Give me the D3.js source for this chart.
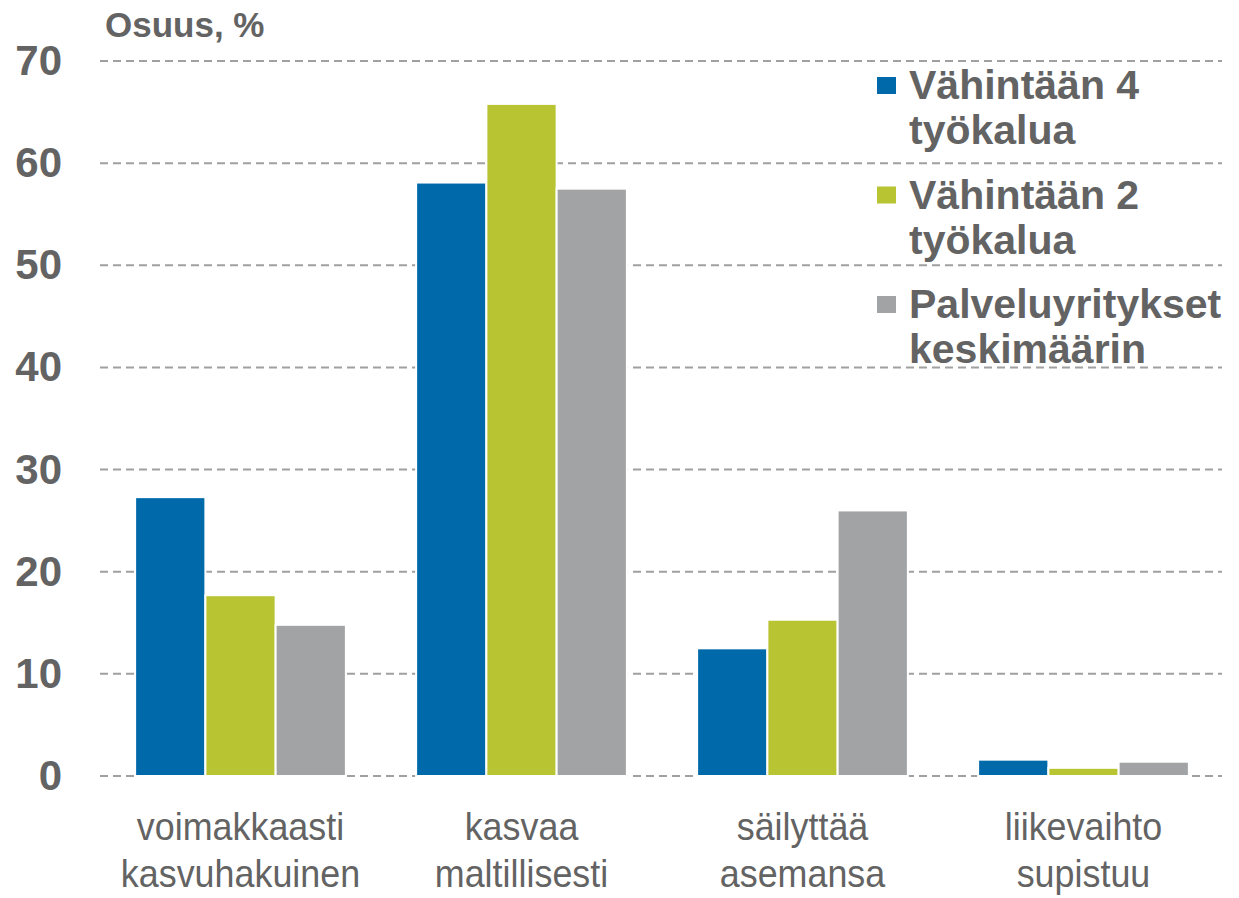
<!DOCTYPE html>
<html>
  <head>
    <meta charset="utf-8">
    <script src="https://d3js.org/d3.v7.min.js"></script>
    <style>
      body { margin: 0; background: #fff; }
      text { font-family: Arial, "Liberation Sans", sans-serif; fill: #636363; }
    </style>
  </head>
  <body>
    <script>
    // data
    var categories = ["voimakkaasti kasvuhakuinen", "kasvaa maltillisesti", "säilyttää asemansa", "liikevaihto supistuu"];
    var categoryLines = [["voimakkaasti", "kasvuhakuinen"], ["kasvaa", "maltillisesti"], ["säilyttää", "asemansa"], ["liikevaihto", "supistuu"]];
    var seriesNames = ["Vähintään 4 työkalua", "Vähintään 2 työkalua", "Palveluyritykset keskimäärin"];
    var legendLines = [["Vähintään 4", "työkalua"], ["Vähintään 2", "työkalua"], ["Palveluyritykset", "keskimäärin"]];
    var vah4 = [27.3, 58.1, 12.5, 1.6];
    var vah2 = [17.7, 65.8, 15.3, 0.8];
    var palvelu = [14.8, 57.5, 26.0, 1.4];
    var colors = ["#0069aa", "#b8c432", "#a2a3a5"];
    var yTicks = [0, 10, 20, 30, 40, 50, 60, 70];

    var width = 1239, height = 898;
    var plotLeft = 100, plotRight = 1224, plotTop = 61, plotBottom = 776;

    var svg = d3.select("body").append("svg")
      .attr("width", width)
      .attr("height", height);

    var y = d3.scaleLinear().domain([0, 70]).range([plotBottom, plotTop]);
    var x0 = d3.scaleBand().domain(categories).range([plotLeft, plotRight])
      .paddingInner(0.25).paddingOuter(0.125);
    var x1 = d3.scaleBand().domain(seriesNames).range([0, x0.bandwidth()]);

    // y axis + dashed grid
    var yAxis = svg.append("g")
      .attr("transform", "translate(" + plotLeft + ",0)")
      .call(d3.axisLeft(y).tickValues(yTicks).tickSize(0).tickPadding(38));
    yAxis.select(".domain").remove();
    yAxis.selectAll("text")
      .style("font-size", "42px")
      .style("font-weight", "bold")
      .style("font-family", "Arial, 'Liberation Sans', sans-serif")
      .attr("fill", "#636363");

    svg.append("g").selectAll("line")
      .data(yTicks)
      .enter().append("line")
      .attr("x1", plotLeft)
      .attr("x2", plotRight - 2)
      .attr("y1", function(d) { return y(d); })
      .attr("y2", function(d) { return y(d); })
      .attr("stroke", "#a0a0a0")
      .attr("stroke-width", 2)
      .attr("stroke-dasharray", "8,5");

    // bars
    var rows = categories.map(function(c, i) {
      return [vah4[i], vah2[i], palvelu[i]];
    });

    svg.append("g").selectAll("g")
      .data(rows)
      .enter().append("g")
      .attr("transform", function(d, i) { return "translate(" + x0(categories[i]) + ",0)"; })
      .selectAll("rect")
      .data(function(d) { return d; })
      .enter().append("rect")
      .attr("x", function(d, j) { return x1(seriesNames[j]); })
      .attr("width", x1.bandwidth())
      .attr("y", function(d) { return y(d); })
      .attr("height", function(d) { return y(0) - y(d); })
      .attr("fill", function(d, j) { return colors[j]; })
      .attr("stroke", "#fff")
      .attr("stroke-width", 2);

    // x axis labels (slightly condensed, like the original)
    var xAxis = svg.append("g")
      .attr("transform", "translate(0," + plotBottom + ")")
      .call(d3.axisBottom(x0).tickSize(0).tickFormat(""));
    xAxis.select(".domain").remove();
    xAxis.selectAll(".tick").each(function(d, i) {
      var t = d3.select(this).append("text")
        .attr("text-anchor", "middle")
        .attr("transform", "scale(0.92,1)")
        .style("font-size", "39px")
        .attr("fill", "#636363");
      categoryLines[i].forEach(function(line, k) {
        t.append("tspan").attr("x", 0).attr("y", 64 + k * 47).text(line);
      });
    });

    // y title
    svg.append("text")
      .attr("x", 105)
      .attr("y", 37)
      .style("font-size", "35px")
      .style("font-weight", "bold")
      .text("Osuus, %");

    // legend
    var legend = svg.append("g").selectAll("g")
      .data(legendLines)
      .enter().append("g")
      .attr("transform", function(d, i) { return "translate(877," + (99 + i * 109.5) + ")"; });
    legend.append("rect")
      .attr("x", 0)
      .attr("y", -22)
      .attr("width", 19)
      .attr("height", 17)
      .attr("fill", function(d, i) { return colors[i]; });
    legend.append("text")
      .style("font-size", "41px")
      .style("font-weight", "bold")
      .each(function(d) {
        var t = d3.select(this);
        d.forEach(function(line, k) {
          t.append("tspan").attr("x", 32).attr("y", k * 45).text(line);
        });
      });
    </script>
  </body>
</html>
